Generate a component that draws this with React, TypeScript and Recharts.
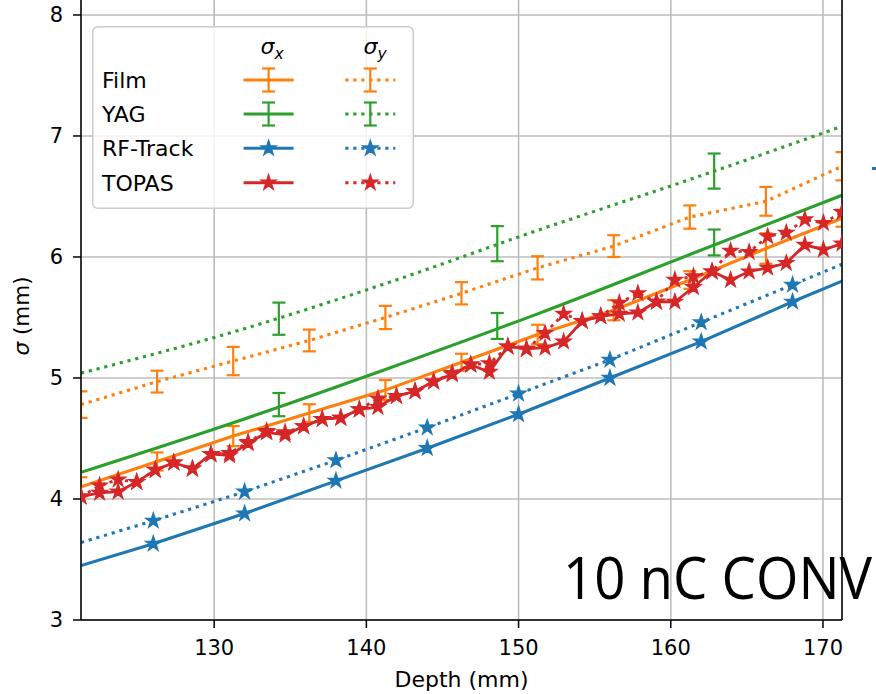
import {
  CartesianGrid,
  ComposedChart,
  ErrorBar,
  Legend,
  Line,
  ReferenceLine,
  XAxis,
  YAxis,
} from "recharts";

const ORANGE = "#ff7f0e";
const GREEN = "#2ca02c";
const BLUE = "#1f77b4";
const RED = "#d62728";
const FONT = "DejaVu Sans";
const DOTS = "3.2 4.8";
const LW = 3.1;

// Film (orange): sigma_x solid, sigma_y dotted, points joined
const filmDepth = [121.25, 126.25, 131.25, 136.25, 141.25, 146.25, 151.25, 156.25, 161.25, 166.25, 171.25];
const filmSx = [4.1, 4.31, 4.52, 4.71, 4.9, 5.13, 5.36, 5.56, 5.81, 6.07, 6.32];
const filmSxErr = [0.08, 0.075, 0.083, 0.073, 0.083, 0.07, 0.08, 0.083, 0.073, 0.126, 0.07];
const filmSy = [4.78, 4.97, 5.14, 5.31, 5.5, 5.7, 5.91, 6.09, 6.33, 6.46, 6.75];
const filmSyErr = [0.11, 0.09, 0.117, 0.09, 0.096, 0.092, 0.096, 0.09, 0.096, 0.119, 0.117];

// YAG (green): measured points + fitted curves
const yagDepth = [134.25, 148.6, 162.85];
const yagSx = [4.78, 5.43, 6.12];
const yagSxErr = [0.096, 0.107, 0.107];
const yagSy = [5.49, 6.11, 6.71];
const yagSyErr = [0.133, 0.145, 0.145];
const yagFitDepth = [121.25, 131.25, 141.25, 151.25, 161.25, 171.25];
const yagFitSx = [4.22, 4.63, 5.07, 5.53, 6.02, 6.51];
const yagFitSy = [5.04, 5.38, 5.78, 6.22, 6.64, 7.08];

// RF-Track (blue)
const rfDepth = [121.25, 126, 132, 138, 144, 150, 156, 162, 168, 171.25];
const rfSx = [3.45, 3.63, 3.88, 4.15, 4.42, 4.7, 5.0, 5.3, 5.63, 5.8];
const rfSy = [3.64, 3.82, 4.06, 4.32, 4.59, 4.87, 5.15, 5.46, 5.77, 5.94];

// TOPAS (red)
const topasDepth = [
  121.25, 122.47, 123.69, 124.91, 126.13, 127.35, 128.57, 129.79, 131.01, 132.23,
  133.45, 134.66, 135.88, 137.1, 138.32, 139.54, 140.76, 141.98, 143.2, 144.42,
  145.64, 146.86, 148.08, 149.3, 150.52, 151.74, 152.96, 154.18, 155.4, 156.62,
  157.84, 159.06, 160.27, 161.49, 162.71, 163.93, 165.15, 166.37, 167.59, 168.81,
  170.03, 171.25,
];
const topasSx = [
  4.02, 4.05, 4.06, 4.14, 4.24, 4.3, 4.25, 4.37, 4.36, 4.46,
  4.55, 4.53, 4.6, 4.66, 4.67, 4.74, 4.76, 4.85, 4.89, 4.97,
  5.03, 5.11, 5.05, 5.26, 5.24, 5.25, 5.3, 5.47, 5.51, 5.53,
  5.54, 5.63, 5.63, 5.75, 5.88, 5.81, 5.88, 5.91, 5.95, 6.1,
  6.06, 6.11,
];
const topasSy = [
  4.02, 4.11, 4.16, 4.14, 4.24, 4.3, 4.25, 4.37, 4.38, 4.47,
  4.56, 4.55, 4.6, 4.66, 4.67, 4.74, 4.83, 4.85, 4.89, 4.97,
  5.04, 5.11, 5.12, 5.26, 5.24, 5.37, 5.53, 5.47, 5.51, 5.62,
  5.7, 5.63, 5.81, 5.84, 5.88, 6.05, 6.04, 6.17, 6.2, 6.31,
  6.28, 6.37,
];

const xTicks = [130, 140, 150, 160, 170];
const yTicks = [3, 4, 5, 6, 7, 8];

const filmData = filmDepth.map((x, i) => ({ x, sx: filmSx[i], ex: filmSxErr[i], sy: filmSy[i], ey: filmSyErr[i] }));
const yagData = yagDepth.map((x, i) => ({ x, sx: yagSx[i], ex: yagSxErr[i], sy: yagSy[i], ey: yagSyErr[i] }));
const yagFit = yagFitDepth.map((x, i) => ({ x, sx: yagFitSx[i], sy: yagFitSy[i] }));
const rfData = rfDepth.map((x, i) => ({ x, sx: rfSx[i], sy: rfSy[i] }));
const topasData = topasDepth.map((x, i) => ({ x, sx: topasSx[i], sy: topasSy[i] }));

const CLIP = "url(#plotArea)";

function starPoints(cx: number, cy: number, r: number) {
  const pts: string[] = [];
  for (let i = 0; i < 10; i++) {
    const rad = i % 2 === 0 ? r : r * 0.382;
    const a = -Math.PI / 2 + (i * Math.PI) / 5;
    pts.push(`${cx + rad * Math.cos(a)},${cy + rad * Math.sin(a)}`);
  }
  return pts.join(" ");
}

// star marker; skipEnds hides the markers on the line's edge points
const starDot = (color: string, skipEnds: boolean, count: number) => (props: any) => {
  const { cx, cy, index } = props;
  if (cx == null || cy == null || (skipEnds && (index === 0 || index === count - 1))) {
    return <g key={`s-${index}`} />;
  }
  return (
    <polygon key={`s-${index}`} points={starPoints(cx, cy, 7.2)} fill={color} stroke={color}
      strokeWidth={1.8} strokeLinejoin="miter" clipPath={CLIP} />
  );
};

function LegendBox() {
  const rows = [
    { name: "Film", color: ORANGE, kind: "err" },
    { name: "YAG", color: GREEN, kind: "err" },
    { name: "RF-Track", color: BLUE, kind: "star" },
    { name: "TOPAS", color: RED, kind: "star" },
  ];
  const rowY = [54, 88, 122.3, 156.7];
  const handle = (cx: number, cy: number, color: string, kind: string, dotted: boolean, key: string) => (
    <g key={key}>
      <line x1={cx - 25} x2={cx + 25} y1={cy} y2={cy} stroke={color} strokeWidth={LW}
        strokeDasharray={dotted ? DOTS : undefined} />
      {kind === "err" ? (
        <g stroke={color} strokeWidth={2.2}>
          <line x1={cx} x2={cx} y1={cy - 11.5} y2={cy + 11.5} />
          <line x1={cx - 6.5} x2={cx + 6.5} y1={cy - 11.5} y2={cy - 11.5} />
          <line x1={cx - 6.5} x2={cx + 6.5} y1={cy + 11.5} y2={cy + 11.5} />
        </g>
      ) : (
        <polygon points={starPoints(cx, cy, 7.2)} fill={color} stroke={color} strokeWidth={1.8} />
      )}
    </g>
  );
  return (
    <svg width={322} height={183} style={{ display: "block" }}>
      <rect x={0.75} y={0.75} width={320.5} height={181.5} rx={5} fill="rgba(255,255,255,0.8)" stroke="#cccccc" strokeWidth={1.5} />
      <text x={180} y={28} textAnchor="middle" fontFamily={FONT} fontSize={22} fontStyle="italic" fill="#000">
        σ<tspan fontSize={15.5} dy={5}>x</tspan>
      </text>
      <text x={283} y={28} textAnchor="middle" fontFamily={FONT} fontSize={22} fontStyle="italic" fill="#000">
        σ<tspan fontSize={15.5} dy={5}>y</tspan>
      </text>
      {rows.map((r, i) => (
        <g key={r.name}>
          <text x={10} y={rowY[i] + 8} fontFamily={FONT} fontSize={22} fill="#000">{r.name}</text>
          {handle(176.6, rowY[i], r.color, r.kind, false, `${r.name}-x`)}
          {handle(278.3, rowY[i], r.color, r.kind, true, `${r.name}-y`)}
        </g>
      ))}
    </svg>
  );
}

const YLabel = () => (
  <text x={29} y={321} transform="rotate(-90, 29, 321)" textAnchor="middle" fontFamily={FONT} fontSize={21.5} fill="#000">
    <tspan fontStyle="italic">σ</tspan> (mm)
  </text>
);

const XLabel = (props: any) => {
  const vb = props.viewBox || { x: 0, width: 0 };
  return (
    <text x={vb.x + vb.width / 2} y={692} textAnchor="middle" fontFamily={FONT} fontSize={22} fill="#000">
      Depth (mm)
    </text>
  );
};

const tickStyle = { fill: "#000", fontSize: 21, fontFamily: FONT };

export default function App() {
  return (
    <div style={{ position: "absolute", left: 0, top: 0, width: 876, height: 694, overflow: "hidden", background: "#fff" }}>
      <div style={{ position: "absolute", left: 0, top: -5 }}>
        <ComposedChart width={876} height={699} margin={{ top: 0, right: 34, bottom: 14, left: 0 }}>
          <defs>
            <clipPath id="plotArea">
              <rect x={81} y={0} width={761} height={625} />
            </clipPath>
          </defs>
          <CartesianGrid stroke="#bdbdbd" strokeWidth={1.6} />
          <XAxis
            type="number"
            dataKey="x"
            domain={[121.25, 171.25]}
            ticks={xTicks}
            allowDataOverflow
            height={60}
            tickSize={8}
            tickMargin={12}
            tick={tickStyle}
            axisLine={{ stroke: "#000", strokeWidth: 1.5 }}
            tickLine={{ stroke: "#000", strokeWidth: 1.5 }}
            label={<XLabel />}
          />
          <YAxis
            type="number"
            domain={[3, 8.165]}
            ticks={yTicks}
            allowDataOverflow
            width={81}
            tickSize={8}
            tickMargin={10}
            tick={tickStyle}
            axisLine={{ stroke: "#000", strokeWidth: 1.5 }}
            tickLine={{ stroke: "#000", strokeWidth: 1.5 }}
            label={<YLabel />}
          />

          <Line data={filmData} dataKey="sx" stroke={ORANGE} strokeWidth={LW} dot={false} activeDot={false} isAnimationActive={false}>
            <ErrorBar dataKey="ex" direction="y" width={6.5} stroke={ORANGE} strokeWidth={2.2} clipPath={CLIP} />
          </Line>
          <Line data={filmData} dataKey="sy" stroke={ORANGE} strokeWidth={LW} strokeDasharray={DOTS} dot={false} activeDot={false} isAnimationActive={false}>
            <ErrorBar dataKey="ey" direction="y" width={6.5} stroke={ORANGE} strokeWidth={2.2} clipPath={CLIP} />
          </Line>

          <Line data={yagFit} dataKey="sx" type="monotone" stroke={GREEN} strokeWidth={LW} dot={false} activeDot={false} isAnimationActive={false} />
          <Line data={yagFit} dataKey="sy" type="monotone" stroke={GREEN} strokeWidth={LW} strokeDasharray={DOTS} dot={false} activeDot={false} isAnimationActive={false} />
          <Line data={yagData} dataKey="sx" stroke="none" dot={false} activeDot={false} isAnimationActive={false}>
            <ErrorBar dataKey="ex" direction="y" width={6.5} stroke={GREEN} strokeWidth={2.2} />
          </Line>
          <Line data={yagData} dataKey="sy" stroke="none" dot={false} activeDot={false} isAnimationActive={false}>
            <ErrorBar dataKey="ey" direction="y" width={6.5} stroke={GREEN} strokeWidth={2.2} />
          </Line>

          <Line data={rfData} dataKey="sx" stroke={BLUE} strokeWidth={LW} dot={starDot(BLUE, true, rfData.length)} activeDot={false} isAnimationActive={false} />
          <Line data={rfData} dataKey="sy" stroke={BLUE} strokeWidth={LW} strokeDasharray={DOTS} dot={starDot(BLUE, true, rfData.length)} activeDot={false} isAnimationActive={false} />

          <Line data={topasData} dataKey="sx" stroke={RED} strokeWidth={2.8} dot={starDot(RED, false, topasData.length)} activeDot={false} isAnimationActive={false} />
          <Line data={topasData} dataKey="sy" stroke={RED} strokeWidth={2.8} strokeDasharray={DOTS} dot={starDot(RED, false, topasData.length)} activeDot={false} isAnimationActive={false} />

          <ReferenceLine x={171.25} stroke="#000" strokeWidth={1.5} />

          <Legend
            layout="horizontal"
            verticalAlign="middle"
            align="center"
            content={() => <LegendBox />}
            wrapperStyle={{ left: 92, top: 31, width: 322, height: 183 }}
          />
        </ComposedChart>
      </div>
      <svg style={{ position: "absolute", left: 0, top: 0 }} width={876} height={694}>
        <text x={563} y={599} fontFamily="Open Sans" fontSize={59} fill="#000" textLength={309} lengthAdjust="spacingAndGlyphs">
          10 nC CONV
        </text>
        <line x1={872} x2={876} y1={168.5} y2={168.5} stroke={BLUE} strokeWidth={3} />
      </svg>
    </div>
  );
}
